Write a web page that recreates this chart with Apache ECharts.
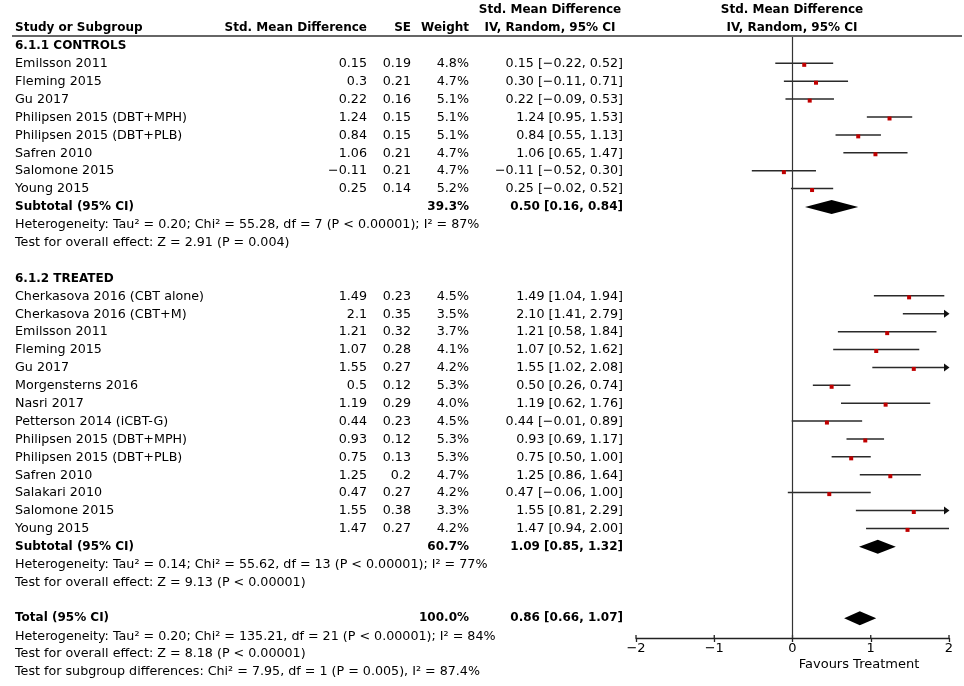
<!DOCTYPE html>
<html lang="en">
<head>
<meta charset="UTF-8">
<title>Forest plot</title>
<style>
  html, body { margin: 0; padding: 0; background: #fff; }
  #chart { width: 964px; height: 686px; }
</style>
</head>
<body>
<div id="chart"></div>
<script src="https://cdn.jsdelivr.net/npm/echarts/dist/echarts.min.js"></script>
<script>
// 6.1.1 CONTROLS
var controlStudies = ['Emilsson 2011', 'Fleming 2015', 'Gu 2017', 'Philipsen 2015 (DBT+MPH)',
  'Philipsen 2015 (DBT+PLB)', 'Safren 2010', 'Salomone 2015', 'Young 2015'];
var controlSmd = [0.15, 0.3, 0.22, 1.24, 0.84, 1.06, -0.11, 0.25];
var controlSe = [0.19, 0.21, 0.16, 0.15, 0.15, 0.21, 0.21, 0.14];
var controlWeight = [4.8, 4.7, 5.1, 5.1, 5.1, 4.7, 4.7, 5.2];
var controlLo = [-0.22, -0.11, -0.09, 0.95, 0.55, 0.65, -0.52, -0.02];
var controlHi = [0.52, 0.71, 0.53, 1.53, 1.13, 1.47, 0.30, 0.52];

// 6.1.2 TREATED
var treatedStudies = ['Cherkasova 2016 (CBT alone)', 'Cherkasova 2016 (CBT+M)', 'Emilsson 2011',
  'Fleming 2015', 'Gu 2017', 'Morgensterns 2016', 'Nasri 2017', 'Petterson 2014 (iCBT-G)',
  'Philipsen 2015 (DBT+MPH)', 'Philipsen 2015 (DBT+PLB)', 'Safren 2010', 'Salakari 2010',
  'Salomone 2015', 'Young 2015'];
var treatedSmd = [1.49, 2.1, 1.21, 1.07, 1.55, 0.5, 1.19, 0.44, 0.93, 0.75, 1.25, 0.47, 1.55, 1.47];
var treatedSe = [0.23, 0.35, 0.32, 0.28, 0.27, 0.12, 0.29, 0.23, 0.12, 0.13, 0.2, 0.27, 0.38, 0.27];
var treatedWeight = [4.5, 3.5, 3.7, 4.1, 4.2, 5.3, 4.0, 4.5, 5.3, 5.3, 4.7, 4.2, 3.3, 4.2];
var treatedLo = [1.04, 1.41, 0.58, 0.52, 1.02, 0.26, 0.62, -0.01, 0.69, 0.50, 0.86, -0.06, 0.81, 0.94];
var treatedHi = [1.94, 2.79, 1.84, 1.62, 2.08, 0.74, 1.76, 0.89, 1.17, 1.00, 1.64, 1.00, 2.29, 2.00];

// pooled: controls subtotal, treated subtotal, total
var pooledLabels = ['Subtotal (95% CI)', 'Subtotal (95% CI)', 'Total (95% CI)'];
var pooledWeight = [39.3, 60.7, 100.0];
var pooledEst = [0.50, 1.09, 0.86];
var pooledLo = [0.16, 0.85, 0.66];
var pooledHi = [0.84, 1.32, 1.07];

var controlNotes = ['Heterogeneity: Tau\u00b2 = 0.20; Chi\u00b2 = 55.28, df = 7 (P < 0.00001); I\u00b2 = 87%',
  'Test for overall effect: Z = 2.91 (P = 0.004)'];
var treatedNotes = ['Heterogeneity: Tau\u00b2 = 0.14; Chi\u00b2 = 55.62, df = 13 (P < 0.00001); I\u00b2 = 77%',
  'Test for overall effect: Z = 9.13 (P < 0.00001)'];
var totalNotes = ['Heterogeneity: Tau\u00b2 = 0.20; Chi\u00b2 = 135.21, df = 21 (P < 0.00001); I\u00b2 = 84%',
  'Test for overall effect: Z = 8.18 (P < 0.00001)',
  'Test for subgroup differences: Chi\u00b2 = 7.95, df = 1 (P = 0.005), I\u00b2 = 87.4%'];

var xTicks = [-2, -1, 0, 1, 2];

var FONT = 'DejaVu Sans';
var COL = { name: 15, smd: 367, se: 411, weight: 469, ci: 623, head: 550, plot: 792 };

function fmt(v) { return String(v).replace('-', '\u2212'); }
function ciText(e, l, h) {
  return fmt(e.toFixed(2)) + ' [' + fmt(l.toFixed(2)) + ', ' + fmt(h.toFixed(2)) + ']';
}

// table rows, each row index maps onto the y axis
var rows = [];
var studyMarks = [];
var pooledMarks = [];
var r = 0;
function cell(t, x, align, bold) { return { t: t, x: x, align: align || 'left', bold: !!bold }; }

rows.push({ row: -2, cells: [cell('Std. Mean Difference', COL.head, 'center', true),
  cell('Std. Mean Difference', COL.plot, 'center', true)] });
rows.push({ row: -1, cells: [cell('Study or Subgroup', COL.name, 'left', true),
  cell('Std. Mean Difference', COL.smd, 'right', true), cell('SE', COL.se, 'right', true),
  cell('Weight', COL.weight, 'right', true), cell('IV, Random, 95% CI', COL.head, 'center', true),
  cell('IV, Random, 95% CI', COL.plot, 'center', true)] });

function addGroup(title, names, smd, se, w, lo, hi, k, notes) {
  rows.push({ row: r++, cells: [cell(title, COL.name, 'left', true)] });
  for (var i = 0; i < names.length; i++) {
    rows.push({ row: r, cells: [cell(names[i], COL.name), cell(fmt(smd[i]), COL.smd, 'right'),
      cell(String(se[i]), COL.se, 'right'), cell(w[i].toFixed(1) + '%', COL.weight, 'right'),
      cell(ciText(smd[i], lo[i], hi[i]), COL.ci, 'right')] });
    studyMarks.push([smd[i], r, lo[i], hi[i]]);
    r++;
  }
  addPooled(k);
  notes.forEach(function (n) { rows.push({ row: r++, cells: [cell(n, COL.name)] }); });
  r++;
}
function addPooled(k) {
  rows.push({ row: r, cells: [cell(pooledLabels[k], COL.name, 'left', true),
    cell(pooledWeight[k].toFixed(1) + '%', COL.weight, 'right', true),
    cell(ciText(pooledEst[k], pooledLo[k], pooledHi[k]), COL.ci, 'right', true)] });
  pooledMarks.push([pooledEst[k], r, pooledLo[k], pooledHi[k]]);
  r++;
}

addGroup('6.1.1 CONTROLS', controlStudies, controlSmd, controlSe, controlWeight, controlLo, controlHi, 0, controlNotes);
addGroup('6.1.2 TREATED', treatedStudies, treatedSmd, treatedSe, treatedWeight, treatedLo, treatedHi, 1, treatedNotes);
addPooled(2);
totalNotes.forEach(function (n) { rows.push({ row: r++, cells: [cell(n, COL.name)] }); });

var chart = echarts.init(document.getElementById('chart'));

var axisColor = '#222';
var yMax = 33.1;
var option = {
  backgroundColor: '#fff',
  animation: false,
  grid: { left: 636, right: 15, top: 37, bottom: 48 },
  xAxis: {
    type: 'value', min: -2, max: 2, interval: 1, position: 'bottom',
    axisLine: { show: true, onZero: false, lineStyle: { color: axisColor, width: 1.3 } },
    axisTick: { show: true, length: 4, lineStyle: { color: axisColor, width: 1.3 } },
    axisLabel: { margin: 4, fontSize: 13, fontFamily: FONT, color: '#000',
      formatter: function (v) { return fmt(v); } },
    splitLine: { show: false }
  },
  yAxis: { type: 'value', min: -0.5, max: yMax, inverse: true, show: false },
  graphic: [{
    type: 'text', x: 859, y: 665,
    style: { text: 'Favours Treatment', align: 'center', verticalAlign: 'middle',
      fontSize: 13, fontFamily: FONT, fill: '#000' }
  }],
  series: [{
    // header rule
    type: 'custom', clip: false, silent: true,
    data: [[0, -0.55]],
    renderItem: function (params, api) {
      var y = api.coord([0, -0.55])[1];
      return { type: 'line', shape: { x1: 12, y1: y, x2: 962, y2: y },
        style: { stroke: '#333', lineWidth: 1.5 } };
    }
  }, {
    // upper half of the axis ticks
    type: 'custom', clip: false, silent: true,
    data: xTicks.map(function (t) { return [t, yMax]; }),
    renderItem: function (params, api) {
      var p = api.coord([api.value(0), yMax]);
      return { type: 'line', shape: { x1: p[0], y1: p[1], x2: p[0], y2: p[1] - 3 },
        style: { stroke: axisColor, lineWidth: 1.3 } };
    }
  }, {
    // table text
    type: 'custom', clip: false, silent: true,
    data: rows.map(function (rw) { return [0, rw.row]; }),
    renderItem: function (params, api) {
      var rw = rows[params.dataIndex];
      var y = api.coord([0, rw.row])[1];
      return {
        type: 'group',
        children: rw.cells.map(function (c) {
          return { type: 'text', x: c.x, y: y,
            style: { text: c.t, align: c.align, verticalAlign: 'middle',
              fontFamily: FONT, fontSize: c.bold ? 12 : 12.7,
              fontWeight: c.bold ? 'bold' : 'normal', fill: '#000' } };
        })
      };
    }
  }, {
    // study CIs and point estimates
    type: 'custom', clip: false, silent: true,
    data: studyMarks,
    renderItem: function (params, api) {
      var est = api.value(0), row = api.value(1), lo = api.value(2), hi = api.value(3);
      var xMax = xTicks[xTicks.length - 1];
      var pl = api.coord([lo, row]);
      var ph = api.coord([Math.min(hi, xMax), row]);
      var pe = api.coord([est, row]);
      var y = pl[1] - 0.5;
      var kids = [];
      var x2 = hi > xMax ? ph[0] - 4 : ph[0];
      kids.push({ type: 'line', shape: { x1: pl[0], y1: y, x2: x2, y2: y },
        style: { stroke: '#2a2a2a', lineWidth: 1.5 } });
      if (hi > xMax) {
        kids.push({ type: 'polygon',
          shape: { points: [[ph[0] - 5, y - 4], [ph[0] + 0.5, y], [ph[0] - 5, y + 4]] },
          style: { fill: '#111' } });
      }
      if (est <= xMax) {
        kids.push({ type: 'rect', shape: { x: pe[0] - 2, y: pe[1] - 1, width: 4, height: 4 },
          style: { fill: '#c00000' } });
      }
      return { type: 'group', children: kids };
    },
    markLine: {
      silent: true, symbol: 'none', label: { show: false },
      lineStyle: { color: '#333', width: 1.2, type: 'solid' },
      data: [{ xAxis: 0 }]
    }
  }, {
    // pooled diamonds
    type: 'custom', clip: false, silent: true,
    data: pooledMarks,
    renderItem: function (params, api) {
      var row = api.value(1);
      var pe = api.coord([api.value(0), row]);
      var pl = api.coord([api.value(2), row]);
      var ph = api.coord([api.value(3), row]);
      var h = 7;
      return { type: 'polygon',
        shape: { points: [[pl[0], pe[1]], [pe[0], pe[1] - h], [ph[0], pe[1]], [pe[0], pe[1] + h]] },
        style: { fill: '#000' } };
    }
  }]
};
chart.setOption(option);
</script>
</body>
</html>
